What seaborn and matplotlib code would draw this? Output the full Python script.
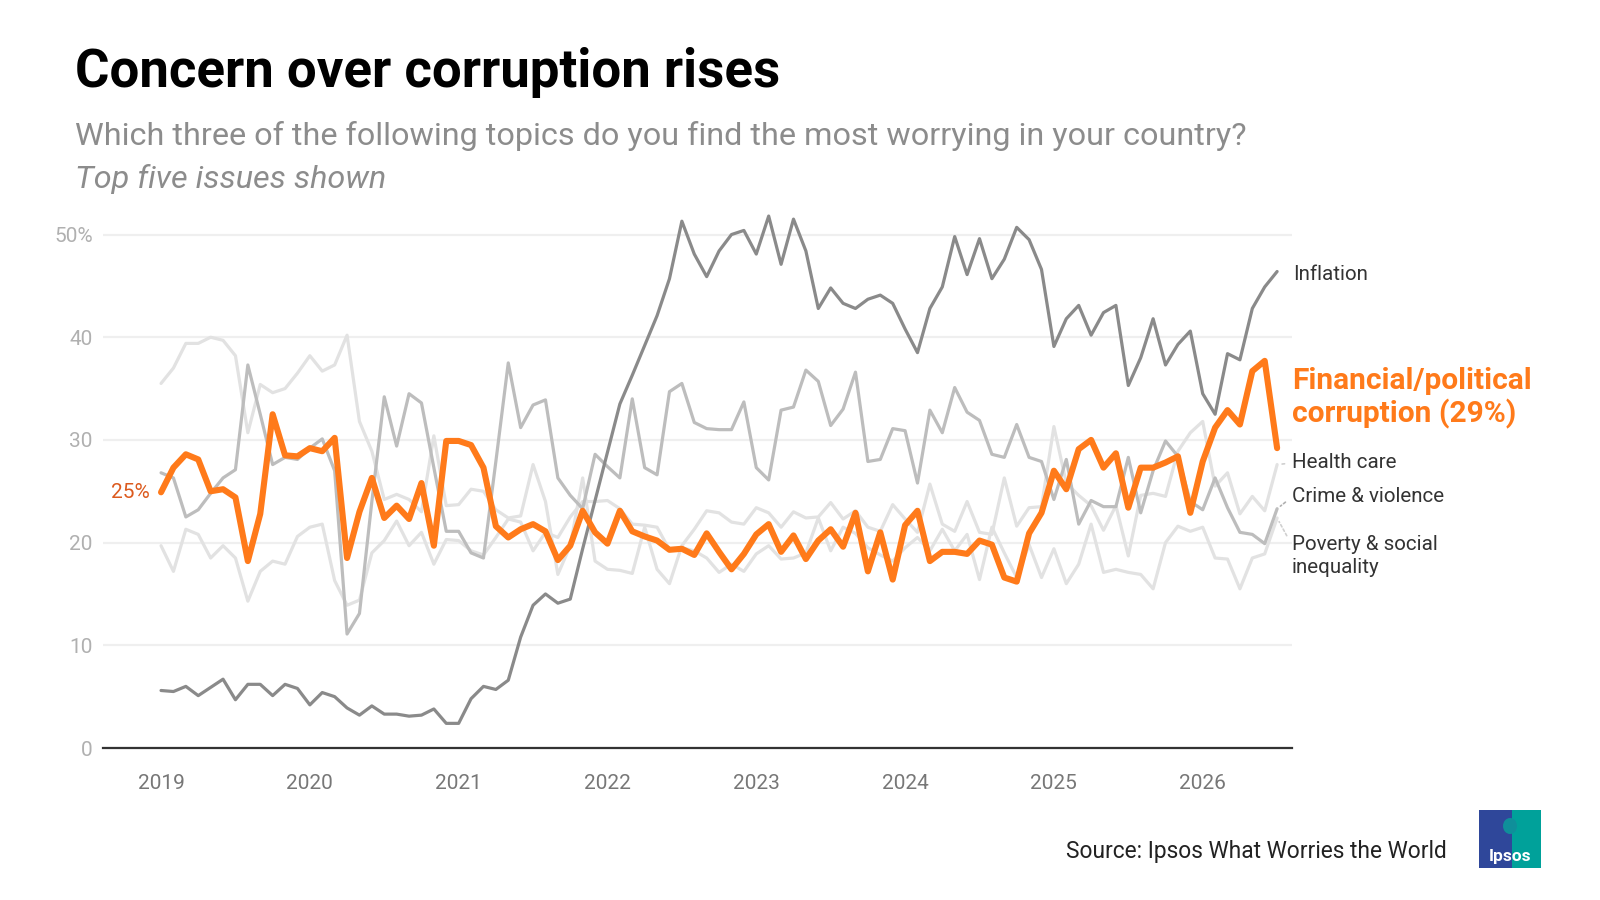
import numpy as np
import pandas as pd
import matplotlib
matplotlib.use("Agg")
import matplotlib.pyplot as plt
import seaborn as sns
from matplotlib.patches import Rectangle, Ellipse

# ---------------- data (monthly, Jan 2019 .. Jul 2026) ----------------
start_year = 2019

corruption = [
    24.9, 27.3, 28.6, 28.1, 25.0, 25.2, 24.4, 18.2, 22.8, 32.5,
    28.5, 28.4, 29.2, 28.9, 30.2, 18.5, 23.0, 26.3, 22.4, 23.6,
    22.3, 25.8, 19.7, 29.9, 29.9, 29.5, 27.3, 21.6, 20.5, 21.3,
    21.8, 21.1, 18.3, 19.7, 23.1, 21.0, 19.9, 23.1, 21.1, 20.6,
    20.2, 19.3, 19.4, 18.8, 20.9, 19.1, 17.4, 18.9, 20.8, 21.8,
    19.1, 20.7, 18.4, 20.2, 21.3, 19.6, 22.9, 17.2, 21.0, 16.4,
    21.7, 23.1, 18.2, 19.1, 19.1, 18.9, 20.2, 19.8, 16.6, 16.2,
    20.9, 22.9, 27.0, 25.2, 29.1, 30.0, 27.3, 28.7, 23.4, 27.3,
    27.3, 27.8, 28.4, 22.9, 27.9, 31.2, 32.9, 31.5, 36.7, 37.7,
    29.2,
]

inflation = [
    5.6, 5.5, 6.0, 5.1, 5.9, 6.7, 4.7, 6.2, 6.2, 5.1,
    6.2, 5.8, 4.2, 5.4, 5.0, 3.9, 3.2, 4.1, 3.3, 3.3,
    3.1, 3.2, 3.8, 2.4, 2.4, 4.8, 6.0, 5.7, 6.6, 10.8,
    13.9, 15.0, 14.1, 14.5, 19.4, 24.1, 28.8, 33.5, 36.3, 39.2,
    42.1, 45.7, 51.3, 48.1, 45.9, 48.4, 50.0, 50.4, 48.1, 51.8,
    47.1, 51.5, 48.4, 42.8, 44.8, 43.3, 42.8, 43.7, 44.1, 43.3,
    40.8, 38.5, 42.8, 44.9, 49.8, 46.1, 49.6, 45.7, 47.6, 50.7,
    49.5, 46.6, 39.1, 41.8, 43.1, 40.2, 42.4, 43.1, 35.3, 38.0,
    41.8, 37.3, 39.3, 40.6, 34.5, 32.5, 38.4, 37.8, 42.8, 44.9,
    46.4,
]

crime = [
    26.8, 26.3, 22.5, 23.2, 24.8, 26.3, 27.1, 37.3, 32.5, 27.6,
    28.3, 28.1, 29.2, 30.1, 27.0, 11.1, 13.1, 24.0, 34.2, 29.4,
    34.5, 33.6, 27.3, 21.1, 21.1, 19.0, 18.5, 27.9, 37.5, 31.2,
    33.4, 33.9, 26.3, 24.6, 23.3, 28.6, 27.4, 26.3, 34.0, 27.3,
    26.6, 34.7, 35.5, 31.7, 31.1, 31.0, 31.0, 33.7, 27.3, 26.1,
    32.9, 33.2, 36.8, 35.7, 31.4, 33.0, 36.6, 27.9, 28.1, 31.1,
    30.9, 25.8, 32.9, 30.7, 35.1, 32.7, 31.9, 28.6, 28.3, 31.5,
    28.3, 27.9, 24.2, 28.1, 21.8, 24.1, 23.5, 23.5, 28.3, 22.9,
    27.0, 29.9, 28.4, 24.0, 23.2, 26.3, 23.4, 21.0, 20.8, 19.9,
    23.3,
]

health = [
    35.5, 37.0, 39.4, 39.4, 40.0, 39.7, 38.2, 30.7, 35.4, 34.6,
    35.0, 36.5, 38.2, 36.7, 37.3, 40.2, 31.8, 28.9, 24.2, 24.7,
    24.2, 23.0, 30.4, 23.6, 23.7, 25.2, 25.0, 23.2, 22.4, 22.6,
    27.6, 24.0, 16.9, 19.7, 26.3, 18.2, 17.4, 17.3, 17.0, 21.5,
    17.4, 16.0, 19.7, 21.3, 23.1, 22.9, 22.0, 21.8, 23.4, 22.9,
    21.5, 23.0, 22.4, 22.5, 23.9, 22.3, 23.1, 21.5, 21.1, 23.7,
    22.3, 21.0, 25.7, 21.8, 21.1, 24.0, 21.0, 20.8, 26.3, 21.6,
    23.4, 23.5, 31.3, 25.8, 24.6, 23.6, 21.2, 23.6, 18.7, 24.6,
    24.8, 24.5, 28.9, 30.7, 31.8, 25.5, 26.8, 22.8, 24.5, 23.1,
    27.6,
]

poverty = [
    19.7, 17.2, 21.3, 20.8, 18.5, 19.7, 18.5, 14.3, 17.2, 18.2,
    17.9, 20.6, 21.5, 21.8, 16.3, 13.9, 14.4, 19.0, 20.2, 22.1,
    19.7, 21.0, 17.9, 20.3, 20.2, 19.2, 18.8, 20.5, 22.3, 22.0,
    19.2, 21.0, 20.5, 22.5, 24.0, 24.0, 24.1, 23.3, 21.8, 21.7,
    21.5, 19.3, 19.5, 19.2, 18.5, 17.1, 17.9, 17.2, 18.9, 19.7,
    18.4, 18.5, 19.0, 22.4, 19.2, 21.5, 20.9, 19.5, 18.8, 18.2,
    19.5, 20.5, 19.2, 21.3, 19.2, 20.8, 16.4, 21.5, 19.0, 16.6,
    19.8, 16.6, 19.4, 16.0, 17.9, 21.8, 17.1, 17.4, 17.1, 16.9,
    15.5, 20.0, 21.6, 21.1, 21.5, 18.5, 18.4, 15.5, 18.5, 18.9,
    22.4,
]

year_ticks = [2019, 2020, 2021, 2022, 2023, 2024, 2025, 2026]
year_labels = [str(y) for y in year_ticks]
y_ticks = [0, 10, 20, 30, 40, 50]
y_tick_labels = ["0", "10", "20", "30", "40", "50%"]

# ---------------- build frame ----------------
n = len(corruption)
df = pd.DataFrame({
    "year": start_year + np.arange(n) / 12.0,
    "Health care": health,
    "Poverty": poverty,
    "Crime": crime,
    "Inflation": inflation,
    "Corruption": corruption,
})

# ---------------- style ----------------
sns.set_theme(style="white")
plt.rcParams["font.family"] = ["Roboto", "DejaVu Sans"]

ORANGE = "#ff7a1a"
DARK = "#8a8a8a"
MID = "#bdbdbd"
LIGHT = "#e2e2e2"

fig = plt.figure(figsize=(16, 9), dpi=100)
fig.patch.set_facecolor("white")
ax = fig.add_axes([103 / 1600, 152 / 900, 1189 / 1600, 534 / 900])
ax.set_facecolor("white")

line_specs = [
    ("Health care", LIGHT, 2.3),
    ("Poverty", LIGHT, 2.3),
    ("Crime", MID, 2.3),
    ("Inflation", DARK, 2.3),
    ("Corruption", ORANGE, 4.4),
]
for col, colr, lw in line_specs:
    sns.lineplot(data=df, x="year", y=col, color=colr, linewidth=lw, ax=ax,
                 solid_joinstyle="round", solid_capstyle="round")

ax.set_xlim(2018.61, 2026.60)
ax.set_ylim(0, 52)
ax.set_xlabel("")
ax.set_ylabel("")

ax.set_yticks(y_ticks)
ax.set_yticklabels(y_tick_labels)
ax.set_xticks(year_ticks)
ax.set_xticklabels(year_labels)
ax.yaxis.grid(True, color="#efefef", linewidth=1.6)
ax.xaxis.grid(False)
ax.set_axisbelow(True)
for s in ["left", "right", "top"]:
    ax.spines[s].set_visible(False)
ax.spines["bottom"].set_color("#333333")
ax.spines["bottom"].set_linewidth(1.6)
ax.tick_params(axis="x", length=7, width=1.5, color="#333333", labelsize=15,
               labelcolor="#777777", pad=12, direction="out")
ax.tick_params(axis="y", length=0, labelsize=15, labelcolor="#b0b0b0", pad=7.5)

# ---------------- annotations ----------------
x_end = df["year"].iloc[-1]
x_start = df["year"].iloc[0]

ax.annotate(f"{round(corruption[0])}%", xy=(x_start, corruption[0]), xytext=(-8, 0),
            textcoords="offset points", ha="right", va="center",
            fontsize=15, color="#dc5a1e")

ax.annotate("Inflation", xy=(x_end, inflation[-1]), xytext=(1293, 900 - 275),
            textcoords="figure pixels", ha="left", va="center",
            fontsize=14.8, color="#333333")
ax.annotate(f"Financial/political\ncorruption ({round(corruption[-1])}%)",
            xy=(x_end, corruption[-1]), xytext=(1292, 900 - 398),
            textcoords="figure pixels", ha="left", va="center",
            fontsize=21.5, fontweight="bold", color=ORANGE, linespacing=1.18)

conn = dict(arrowstyle="-", linestyle=(0, (1.5, 1.5)), linewidth=1.2,
            shrinkA=3, shrinkB=3, relpos=(0, 0.5))
ax.annotate("Health care", xy=(x_end, health[-1]), xytext=(1292, 900 - 463),
            textcoords="figure pixels", ha="left", va="center", fontsize=14.8,
            color="#333333", arrowprops=dict(conn, color="#d0d0d0"))
ax.annotate("Crime & violence", xy=(x_end, crime[-1]), xytext=(1292, 900 - 497),
            textcoords="figure pixels", ha="left", va="center", fontsize=14.8,
            color="#333333", arrowprops=dict(conn, color="#b0b0b0"))
ax.annotate("Poverty & social\ninequality", xy=(x_end, poverty[-1]),
            xytext=(1292, 900 - 556), textcoords="figure pixels", ha="left",
            va="center", fontsize=14.8, color="#333333", linespacing=1.3,
            arrowprops=dict(conn, color="#d0d0d0", relpos=(0, 0.75)))

# ---------------- titles ----------------
fig.text(75 / 1600, 1 - 87 / 900, "Concern over corruption rises",
         fontsize=38, fontweight="bold", color="black", va="baseline", ha="left")
fig.text(75 / 1600, 1 - 145 / 900,
         "Which three of the following topics do you find the most worrying in your country?",
         fontsize=23.3, fontweight="normal", color="#8c8c8c", va="baseline", ha="left")
fig.text(75 / 1600, 1 - 188 / 900, "Top five issues shown",
         fontsize=23.3, fontweight="normal", style="italic", color="#8c8c8c",
         va="baseline", ha="left")

fig.text(1066 / 1600, 1 - 858 / 900, "Source: Ipsos What Worries the World",
         fontsize=16.4, color="#222222", va="baseline", ha="left")

# ---------------- logo ----------------
lax = fig.add_axes([1479 / 1600, 1 - 868 / 900, 62 / 1600, 58 / 900])
lax.set_xlim(0, 62)
lax.set_ylim(0, 58)
lax.axis("off")
lax.add_patch(Rectangle((0, 0), 33, 58, color="#2f479a", lw=0))
lax.add_patch(Rectangle((33, 0), 29, 58, color="#00a19a", lw=0))
lax.add_patch(Ellipse((31, 42), 14, 16, color="#0f8f9a", lw=0))
lax.text(31, 12, "Ipsos", color="white", fontsize=12.5, fontweight="bold",
         ha="center", va="center")

fig.savefig("out.png", dpi=100, facecolor="white")
